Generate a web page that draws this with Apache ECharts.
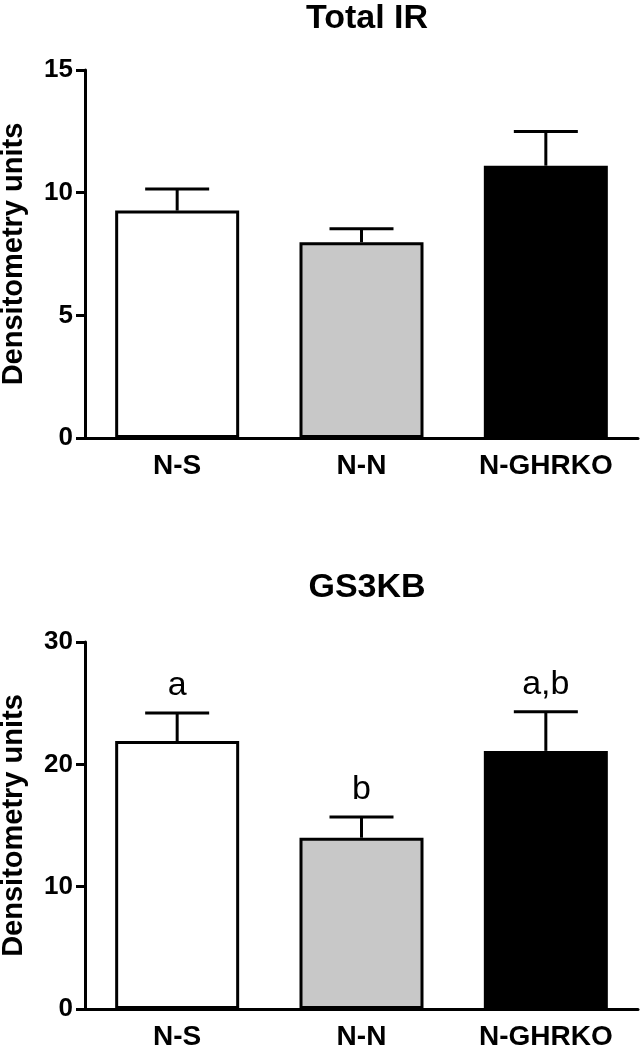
<!DOCTYPE html>
<html>
<head>
<meta charset="utf-8">
<script src="https://cdn.jsdelivr.net/npm/echarts@6/dist/echarts.min.js"></script>
<style>
  html, body { margin: 0; padding: 0; background: #fff; }
  #chart { width: 640px; height: 1050px; }
</style>
</head>
<body>
<div id="chart"></div>
<script>
const groups = ['N-S', 'N-N', 'N-GHRKO']
const barColors = ['#ffffff', '#c8c8c8', '#000000']

// Total IR
const irMean = [9.27, 7.98, 11.1]
const irUpper = [10.15, 8.53, 12.49]

// GS3KB
const gsMean = [21.9, 14.0, 21.1]
const gsUpper = [24.2, 15.7, 24.3]
const gsLetters = ['a', 'b', 'a,b']

const font = '"Liberation Sans", Arial, sans-serif'

function errorSeries(idx, mean, upper, letters) {
  return {
    type: 'custom',
    xAxisIndex: idx,
    yAxisIndex: idx,
    z: 5,
    encode: {x: 0, y: [1, 2]},
    data: mean.map((m, i) => [i, m, upper[i]]),
    renderItem: (params, api) => {
      const base = api.coord([api.value(0), api.value(1)])
      const top = api.coord([api.value(0), api.value(2)])
      const half = 32
      const style = {stroke: '#000', lineWidth: 3}
      const children = [
        {type: 'line', shape: {x1: base[0], y1: base[1], x2: top[0], y2: top[1]}, style},
        {type: 'line', shape: {x1: top[0] - half, y1: top[1], x2: top[0] + half, y2: top[1]}, style}
      ]
      if (letters) {
        children.push({
          type: 'text',
          x: top[0],
          y: top[1] - 10,
          style: {
            text: letters[params.dataIndex],
            fill: '#000',
            font: '34px ' + font,
            align: 'center',
            verticalAlign: 'bottom'
          }
        })
      }
      return {type: 'group', children}
    }
  }
}

const axisLine = {lineStyle: {color: '#000', width: 3}}
const axisTick = {length: 9, lineStyle: {color: '#000', width: 3}}

function xAxis(idx) {
  return {
    type: 'category',
    gridIndex: idx,
    data: groups,
    axisLine,
    axisTick: Object.assign({alignWithLabel: true}, axisTick),
    axisLabel: {color: '#000', fontSize: 28, fontWeight: 'bold', fontFamily: font, margin: 14}
  }
}

function yAxis(idx, max, interval) {
  return {
    type: 'value',
    gridIndex: idx,
    min: 0,
    max: max,
    interval: interval,
    splitLine: {show: false},
    axisLine: Object.assign({show: true}, axisLine),
    axisTick: Object.assign({show: true}, axisTick),
    axisLabel: {color: '#000', fontSize: 26, fontWeight: 'bold', fontFamily: font, margin: 12},
    name: 'Densitometry units',
    nameLocation: 'middle',
    nameRotate: 90,
    nameGap: 57,
    nameTextStyle: {color: '#000', fontSize: 29, fontWeight: 'bold', fontFamily: font}
  }
}

const chart = echarts.init(document.getElementById('chart'))
chart.setOption({
  backgroundColor: '#fff',
  animation: false,
  title: [
    {text: 'Total IR', left: 362, top: -3, textAlign: 'center',
      textStyle: {color: '#000', fontSize: 34, fontWeight: 'bold', fontFamily: font}},
    {text: 'GS3KB', left: 362, top: 566, textAlign: 'center',
      textStyle: {color: '#000', fontSize: 34, fontWeight: 'bold', fontFamily: font}}
  ],
  grid: [
    {left: 85, right: 2, top: 70, bottom: 612, outerBoundsMode: 'none'},
    {left: 85, right: 2, top: 642, bottom: 41, outerBoundsMode: 'none'}
  ],
  xAxis: [xAxis(0), xAxis(1)],
  yAxis: [yAxis(0, 15, 5), yAxis(1, 30, 10)],
  series: [
    {
      type: 'bar',
      xAxisIndex: 0,
      yAxisIndex: 0,
      barWidth: 124,
      data: irMean.map((v, i) => ({value: v, itemStyle: {color: barColors[i]}})),
      itemStyle: {borderColor: '#000', borderWidth: 3}
    },
    errorSeries(0, irMean, irUpper, null),
    {
      type: 'bar',
      xAxisIndex: 1,
      yAxisIndex: 1,
      barWidth: 124,
      data: gsMean.map((v, i) => ({value: v, itemStyle: {color: barColors[i]}})),
      itemStyle: {borderColor: '#000', borderWidth: 3}
    },
    errorSeries(1, gsMean, gsUpper, gsLetters)
  ]
})
</script>
</body>
</html>
